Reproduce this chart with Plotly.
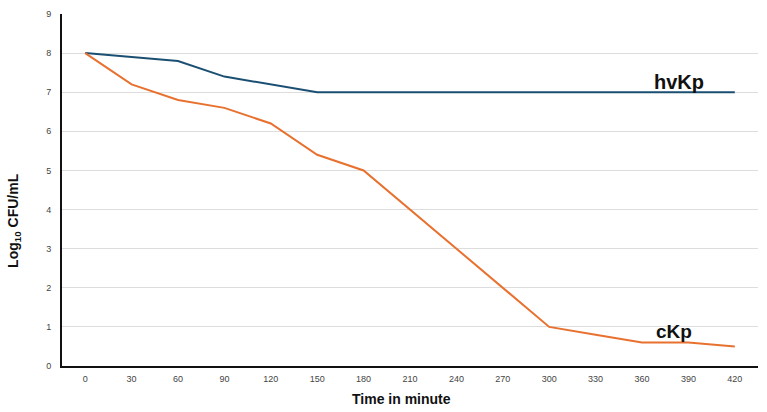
import plotly.graph_objects as go

time_labels = ["0", "30", "60", "90", "120", "150", "180", "210", "240", "270", "300", "330", "360", "390", "420"]
hvkp = [8.0, 7.9, 7.8, 7.4, 7.2, 7.0, 7.0, 7.0, 7.0, 7.0, 7.0, 7.0, 7.0, 7.0, 7.0]
ckp = [8.0, 7.2, 6.8, 6.6, 6.2, 5.4, 5.0, 4.0, 3.0, 2.0, 1.0, 0.8, 0.6, 0.6, 0.5]

fig = go.Figure()
fig.add_trace(go.Scatter(x=time_labels, y=hvkp, mode="lines", name="hvKp",
                         line=dict(color="#1B4F72", width=2)))
fig.add_trace(go.Scatter(x=time_labels, y=ckp, mode="lines", name="cKp",
                         line=dict(color="#E8712F", width=2)))

fig.add_annotation(x=12.8, y=7.25, text="<b>hvKp</b>", showarrow=False,
                   font=dict(family="Liberation Sans, Arial", size=20, color="#111111"))
fig.add_annotation(x=12.7, y=0.88, text="<b>cKp</b>", showarrow=False,
                   font=dict(family="Liberation Sans, Arial", size=19, color="#111111"))

# axis titles as annotations (positioned like the reference)
fig.add_annotation(xref="paper", yref="paper", x=0.488, y=-0.094,
                   text="<b>Time in minute</b>", showarrow=False,
                   xanchor="center", yanchor="middle",
                   font=dict(family="Liberation Sans, Arial", size=14, color="#111111"))
fig.add_annotation(xref="paper", yref="paper", x=-0.069, y=0.415,
                   text="<b>Log<sub>10</sub> CFU/mL</b>", showarrow=False, textangle=-90,
                   xanchor="center", yanchor="middle",
                   font=dict(family="Liberation Sans, Arial", size=14, color="#111111"))

fig.update_layout(
    width=767, height=412,
    margin=dict(l=62, r=9, t=14, b=46),
    paper_bgcolor="white", plot_bgcolor="white",
    showlegend=False,
    font=dict(family="Liberation Sans, Arial", color="#333333"),
)
fig.update_xaxes(
    type="category", range=[-0.5, 14.5],
    showline=True, linecolor="#111111", linewidth=2,
    showgrid=False, ticks="", tickfont=dict(size=9, color="#444444"),
    ticklabelstandoff=3,
)
fig.update_yaxes(
    range=[0, 9], dtick=1,
    showline=True, linecolor="#111111", linewidth=2,
    showgrid=True, gridcolor="#DDDDDD", gridwidth=1,
    zeroline=False, ticks="", tickfont=dict(size=9, color="#444444"),
    ticklabelstandoff=7,
)

fig.write_html("out.html")
